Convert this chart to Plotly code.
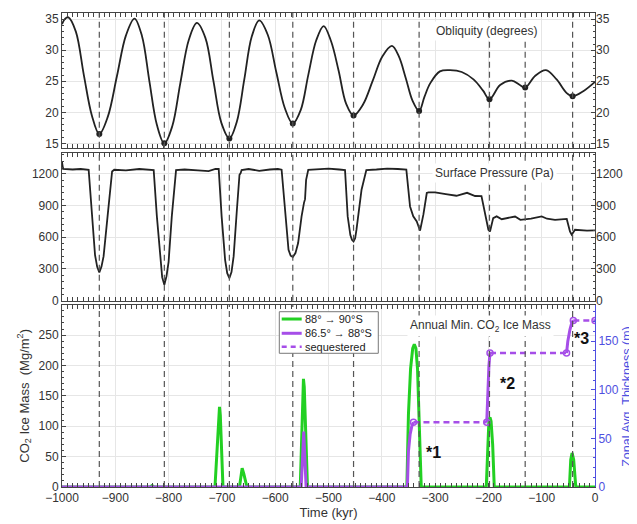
import plotly.graph_objects as go
from plotly.subplots import make_subplots

# ---------------- data ----------------
obl_t = [-1000, -994, -988, -974, -959, -944, -930, -914, -897, -880, -864, -850, -836, -822, -808,
         -793, -778, -762, -747, -731, -716, -701, -686, -672, -658, -644, -630, -614, -598, -582, -567,
         -552, -538, -523, -509, -495, -481, -467, -453, -435, -417, -399, -381, -368, -355, -342, -330,
         -320, -309, -291, -272, -250, -228, -210, -198, -178, -156, -141, -131, -112, -92, -72, -53, -42,
         -22, 0]
obl_v = [34.2, 35.1, 35.3, 33.0, 26.0, 19.5, 16.5, 19.3, 25.8, 32.4, 35.1, 32.3, 25.0, 18.0, 15.0,
         17.8, 24.7, 31.7, 34.4, 32.0, 25.1, 18.3, 15.8, 18.5, 25.3, 32.2, 34.8, 32.5, 26.5, 20.7, 18.2,
         20.4, 26.0, 31.6, 33.9, 31.4, 26.7, 21.4, 19.5, 21.3, 25.1, 29.0, 30.7, 29.0, 25.5, 21.8, 20.2,
         22.5, 24.7, 26.6, 26.8, 26.5, 25.3, 23.5, 22.1, 24.4, 25.1, 24.4, 24.0, 25.9, 26.8, 25.3, 23.1, 22.6,
         23.4, 24.9]

min_t = [-930, -808, -686, -567, -453, -330, -198, -131, -42]
min_v = [16.5, 15.0, 15.8, 18.2, 19.5, 20.2, 22.1, 24.0, 22.6]

pres_t = [-1000, -998, -980, -965, -950, -944, -938, -934, -930, -926, -922, -914.5, -906, -902,
          -880, -855, -835, -828, -822, -816, -812, -808, -804, -800, -794, -786, -770, -745, -725, -712,
          -706, -700.5, -694, -690, -686, -682, -678, -672, -667, -665, -663, -650, -630, -610, -595,
          -588, -581, -575, -571, -567, -562, -557, -550.5, -548, -546, -544, -542, -538, -520, -500,
          -480, -469, -464, -459, -456, -453, -450, -447.5, -438, -429, -410, -390, -370, -354, -347,
          -341, -334.4, -331.3, -330, -328.2, -322, -315.6, -312.5, -300, -280, -260, -240, -225, -213,
          -206, -200, -197, -191, -184.5, -175, -150, -140, -120, -100, -90, -75, -58, -53, -47, -43.7,
          -37.5, -28, -15, 0]
pres_v = [1310, 1245, 1240, 1245, 1238, 797, 430, 320, 268, 320, 419, 797, 1222, 1238,
          1232, 1245, 1240, 1235, 797, 420, 220, 151, 230, 368, 797, 1235, 1240, 1232, 1225, 1245,
          1245, 797, 387, 260, 214, 270, 419, 850, 1191, 1205, 1235, 1245, 1228, 1240, 1245,
          1238, 797, 482, 425, 413, 450, 545, 797, 880, 925, 960, 1143, 1238, 1240, 1248,
          1240, 1235, 797, 620, 575, 560, 590, 671, 1049, 1235, 1240, 1248, 1245, 1240, 891,
          797, 750, 700, 671, 662, 813, 1018, 1024, 1024, 1008, 992, 1020, 990, 989,
          829, 671, 655, 781, 797, 770, 796, 765, 775, 797, 775, 765, 771, 772, 655, 624,
          671, 665, 662, 665]

green_t = [-1000, -835, -831, -827, -713, -709, -706, -704.5, -703, -700, -698, -667, -664, -662, -659,
           -653, -553, -550, -548, -547, -545.5, -542, -539.5, -353, -350, -346, -342, -339, -336, -333,
           -330, -327, -326, -204, -201, -199, -197, -195, -192, -189, -48, -45.5, -43, -40, -36, 0]
green_v = [0, 0, 2.5, 0, 0, 60, 115, 132, 118, 55, 0, 0, 22, 31, 22,
           0, 0, 100, 165, 178, 165, 80, 0, 0, 120, 195, 228, 235, 228, 195,
           120, 30, 0, 0, 90, 110, 114.5, 108, 70, 0, 0, 45, 56, 45, 0, 0]

purple_t = [-1000, -551.3, -548, -546.5, -545, -542, -352, -350, -346.9, -343.7, -340.6,
            None, -203.1, -201, -199, -197, None, -53.4, -51, -47, -43.5, -40.7]
purple_v = [0, 0, 38, 57, 38, 0, 0, 36.7, 54, 62.5, 66.6,
            None, 66.6, 100, 125, 137.7, None, 137.7, 150, 162, 169, 171.3]

seq_t = [-340.6, -203.1, None, -197, -53.4, None, -40.7, 0]
seq_v = [66.6, 66.6, None, 137.7, 137.7, None, 171.3, 171.3]

x_ticks = [-1000, -900, -800, -700, -600, -500, -400, -300, -200, -100, 0]
obl_ticks = [15, 20, 25, 30, 35]
pres_ticks = [0, 300, 600, 900, 1200]
mass_ticks = [0, 50, 100, 150, 200, 250]
thick_ticks = [0, 50, 100, 150]

star_t = [-303, -164.5, -25]
star_v = [56, 171, 245]
star_txt = ["*1", "*2", "*3"]

legend_names = ["88° → 90°S", "86.5° → 88°S", "sequestered"]

# ---------------- styles ----------------
FONT = "Liberation Sans, Arial, sans-serif"
AX = "#444444"
GRID = "#e6e6e6"
BLUE = "#4f4fe0"
GREEN = "#22d022"
PURPLE = "#a64ee8"

fig = make_subplots(rows=3, cols=1, shared_xaxes=True,
                    specs=[[{"secondary_y": True}]] * 3)

# top: obliquity
fig.add_trace(go.Scatter(x=obl_t, y=obl_v, mode="lines", line=dict(color="#222", width=1.8, shape="spline"),
                         showlegend=False, hoverinfo="skip"), row=1, col=1)
fig.add_trace(go.Scatter(x=min_t, y=min_v, mode="markers", marker=dict(color="#222", size=6),
                         showlegend=False), row=1, col=1)
fig.add_trace(go.Scatter(x=min_t, y=min_v, mode="markers", marker=dict(opacity=0),
                         showlegend=False, hoverinfo="skip"), row=1, col=1, secondary_y=True)
# middle: pressure
fig.add_trace(go.Scatter(x=pres_t, y=pres_v, mode="lines", line=dict(color="#222", width=1.8),
                         showlegend=False), row=2, col=1)
fig.add_trace(go.Scatter(x=pres_t, y=pres_v, mode="markers", marker=dict(opacity=0),
                         showlegend=False, hoverinfo="skip"), row=2, col=1, secondary_y=True)
# bottom
fig.add_trace(go.Scatter(x=green_t, y=green_v, mode="lines", line=dict(color=GREEN, width=3),
                         name=legend_names[0], showlegend=False), row=3, col=1, secondary_y=False)
fig.add_trace(go.Scatter(x=purple_t, y=purple_v, mode="lines", line=dict(color=PURPLE, width=3),
                         name=legend_names[1], connectgaps=False, showlegend=False),
              row=3, col=1, secondary_y=True)
fig.add_trace(go.Scatter(x=seq_t, y=seq_v, mode="lines+markers",
                         line=dict(color=PURPLE, width=2.5, dash="6px,4px"),
                         marker=dict(symbol="circle-open", size=6, color=PURPLE, line=dict(width=1.5)),
                         name=legend_names[2], connectgaps=False, showlegend=False),
              row=3, col=1, secondary_y=True)

# vertical dashed lines at obliquity minima
for r in (1, 2, 3):
    for t in min_t:
        fig.add_vline(x=t, line=dict(color="#555", width=1.2, dash="6px,4px"), row=r, col=1)

tickfont = dict(family=FONT, size=12, color="#333")
common_x = dict(domain=[0, 1], range=[-1000, 0], tickvals=x_ticks, showgrid=True, gridcolor=GRID, gridwidth=1,
                showline=True, linecolor=AX, linewidth=1, mirror="allticks", ticks="inside",
                ticklen=4, tickcolor=AX, zeroline=False, tickfont=tickfont, automargin=False,
                minor=dict(dtick=10, ticks="inside", ticklen=2, tickcolor=AX, showgrid=False))
fig.update_xaxes(**common_x)
fig.update_xaxes(showticklabels=False, row=1, col=1)
fig.update_xaxes(showticklabels=False, row=2, col=1)
fig.update_xaxes(showticklabels=True, row=3, col=1,
                 title=dict(text="Time (kyr)", font=dict(family=FONT, size=13, color="#333"), standoff=2))

def left_axis(rng, ticks, minor_dt, mirror=True):
    return dict(range=rng, tickvals=ticks, showgrid=True, gridcolor=GRID, gridwidth=1, showline=True,
                linecolor=AX, linewidth=1, mirror="allticks" if mirror else False, ticks="inside",
                ticklen=4, tickcolor=AX, zeroline=False, tickfont=tickfont, automargin=False,
                minor=dict(dtick=minor_dt, ticks="inside", ticklen=2, tickcolor=AX, showgrid=False))

D1 = [0.7158, 1.0]
D2 = [0.393, 0.7046]
D3 = [0.0, 0.3846]

fig.update_layout(
    yaxis=dict(domain=D1, **left_axis([14.3, 36], obl_ticks, 1)),
    yaxis2=dict(domain=D1, range=[14.3, 36], tickvals=obl_ticks, showgrid=False, showline=False,
                ticks="", zeroline=False, tickfont=tickfont, side="right", overlaying="y", anchor="x",
                automargin=False),
    yaxis3=dict(domain=D2, **left_axis([0, 1396], pres_ticks, 60)),
    yaxis4=dict(domain=D2, range=[0, 1396], tickvals=pres_ticks, showgrid=False, showline=False,
                ticks="", zeroline=False, tickfont=tickfont, side="right", overlaying="y3", anchor="x2",
                automargin=False),
    yaxis5=dict(domain=D3, **left_axis([0, 300], mass_ticks, 10, mirror=False),
                title=dict(text="CO<sub>2</sub> Ice Mass  (Mg/m<sup>2</sup>)",
                           font=dict(family=FONT, size=13, color="#333"), standoff=6)),
    yaxis6=dict(domain=D3, range=[0, 187.5], tickvals=thick_ticks, showgrid=False, showline=True,
                linecolor=BLUE, linewidth=1, ticks="inside", ticklen=4, tickcolor=BLUE, zeroline=False,
                tickfont=dict(family=FONT, size=12, color=BLUE), side="right", overlaying="y5", anchor="x3",
                automargin=False,
                minor=dict(dtick=10, ticks="inside", ticklen=2, tickcolor=BLUE, showgrid=False)),
)

# right-hand axis title, placed as rotated text so it stays inside the page
fig.add_annotation(text="Zonal Avg. Thickness (m)", xref="paper", yref="paper", x=1.0600, y=0.1923,
                   xanchor="center", yanchor="middle", textangle=-90, showarrow=False,
                   font=dict(family=FONT, size=12.5, color=BLUE))

ann_font = dict(family=FONT, size=12, color="#333")
for txt, ax_, ay_ in [("Obliquity (degrees)", 0.797, 0.962),
                      ("Surface Pressure (Pa)", 0.812, 0.662),
                      ("Annual Min. CO<sub>2</sub> Ice Mass", 0.786, 0.340)]:
    fig.add_annotation(text=txt, xref="paper", yref="paper", x=ax_, y=ay_, xanchor="center",
                       yanchor="middle", showarrow=False, font=ann_font, bgcolor="white", borderpad=2)

for t, v, s in zip(star_t, star_v, star_txt):
    fig.add_annotation(text="<b>%s</b>" % s, x=t, y=v, xref="x3", yref="y5", showarrow=False,
                       xanchor="center", yanchor="middle", font=dict(family=FONT, size=16, color="#111"))

# ---- compact legend box (drawn as layout decorations, MATLAB style) ----
LG_X0, LG_X1, LG_Y0, LG_Y1 = 0.4077, 0.5934, 0.2821, 0.3698
LG_ROWS = [0.3544, 0.3243, 0.2960]
LG_S0, LG_S1, LG_TX = 0.4122, 0.4497, 0.4527
lg_styles = [dict(color=GREEN, width=3), dict(color=PURPLE, width=3),
             dict(color=PURPLE, width=2.5, dash="5px,4px")]
fig.add_shape(type="rect", xref="paper", yref="paper", x0=LG_X0, x1=LG_X1, y0=LG_Y0, y1=LG_Y1,
              fillcolor="white", line=dict(color="#777", width=1), layer="above")
for yy, st, name in zip(LG_ROWS, lg_styles, legend_names):
    fig.add_shape(type="line", xref="paper", yref="paper", x0=LG_S0, x1=LG_S1, y0=yy, y1=yy,
                  line=st, layer="above")
    fig.add_annotation(text=name, xref="paper", yref="paper", x=LG_TX, y=yy, xanchor="left",
                       yanchor="middle", showarrow=False,
                       font=dict(family=FONT, size=11, color="#222"))

# the page body adds an 8px offset, so the figure is sized to fit the window from there
fig.update_layout(
    width=629, height=516,
    margin=dict(l=54, r=42, t=5, b=37, autoexpand=False),
    paper_bgcolor="white", plot_bgcolor="white",
    font=dict(family=FONT, size=12, color="#333"),
    showlegend=False,
)

fig.write_html("out.html")
